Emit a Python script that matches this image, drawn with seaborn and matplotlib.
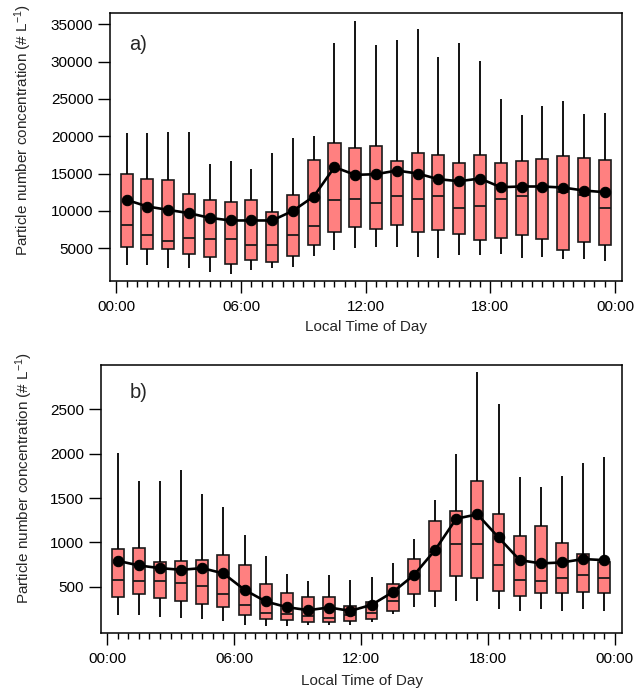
import numpy as np
import pandas as pd
import matplotlib
matplotlib.use("Agg")
import matplotlib.pyplot as plt
import seaborn as sns

# ---------------- data ----------------
hours = list(range(24))

# panel a) statistics per hour (whisker low, Q1, median, Q3, whisker high, mean)
a_whislo = [2680, 2680, 2410, 2320, 1790, 1560, 2010, 2320, 2460, 3930, 4690, 5000,
            5130, 5180, 3840, 3750, 4110, 4060, 4200, 3660, 3790, 3570, 3530, 3300]
a_q1 = [5220, 4870, 4870, 4240, 3840, 2900, 3390, 3170, 3930, 5490, 7140, 7860,
        7540, 8120, 7230, 7370, 6880, 6070, 6380, 6790, 6200, 4730, 5800, 5490]
a_med = [8040, 6790, 5940, 6380, 6290, 6250, 5490, 5360, 6790, 7950, 11430, 11560,
         11030, 12010, 11560, 12050, 10360, 10670, 11520, 12050, 13030, 12460, 12140, 10400]
a_q3 = [14910, 14330, 14110, 12230, 11470, 11160, 11470, 9910, 12140, 16870, 19060, 18480,
        18620, 16650, 17770, 17500, 16470, 17540, 16470, 16700, 16960, 17280, 17050, 16870]
a_whishi = [20400, 20400, 20580, 20620, 16340, 16650, 15580, 17720, 19730, 20000, 32450, 35490,
            32230, 32860, 34370, 30620, 32450, 30090, 25000, 22860, 24110, 24730, 22950, 23080]
a_mean = [11470, 10580, 10130, 9690, 9060, 8710, 8710, 8710, 10000, 11920, 15850, 14820,
          14910, 15400, 15000, 14240, 13970, 14330, 13170, 13260, 13260, 13120, 12720, 12500]

# panel b)
b_whislo = [188, 177, 158, 150, 132, 113, 75, 60, 60, 68, 75, 75,
            105, 196, 275, 275, 342, 342, 245, 229, 245, 226, 245, 233]
b_q1 = [391, 421, 376, 342, 301, 278, 181, 139, 124, 102, 102, 113,
        139, 226, 418, 448, 617, 602, 451, 399, 425, 425, 440, 433]
b_med = [572, 561, 568, 542, 508, 418, 293, 207, 192, 169, 154, 180,
         203, 339, 613, 895, 978, 978, 745, 572, 561, 602, 628, 594]
b_q3 = [925, 933, 775, 790, 805, 854, 741, 534, 425, 391, 391, 286,
        324, 527, 809, 1241, 1354, 1693, 1317, 1072, 1181, 989, 869, 775]
b_whishi = [2005, 1693, 1693, 1821, 1542, 1396, 1083, 843, 647, 568, 632, 576,
            606, 771, 1042, 1478, 1994, 2916, 2558, 1734, 1621, 1753, 1896, 1960]
b_mean = [794, 741, 711, 692, 711, 651, 466, 335, 271, 237, 267, 229,
          297, 440, 632, 914, 1268, 1317, 1057, 801, 764, 775, 813, 801]

panel_labels = ["a)", "b)"]
xtick_hours = [0, 6, 12, 18, 24]
xtick_labels = ["00:00", "06:00", "12:00", "18:00", "00:00"]
a_yticks = [5000, 10000, 15000, 20000, 25000, 30000, 35000]
b_yticks = [500, 1000, 1500, 2000, 2500]
xlabel = "Local Time of Day"
ylabel = "Particle number concentration (# L$^{-1}$)"

# ---------------- style ----------------
sns.set_style("ticks")
plt.rcParams["font.family"] = ["Liberation Sans", "DejaVu Sans"]
plt.rcParams["mathtext.fontset"] = "custom"
plt.rcParams["mathtext.rm"] = "Liberation Sans"
plt.rcParams["mathtext.it"] = "Liberation Sans:italic"
plt.rcParams["axes.linewidth"] = 1.0

BOXFACE = "#FF8080"
EDGE = "#1a1a1a"
FS = 11

fig = plt.figure(figsize=(6.36, 6.92), dpi=100)
ax_a = fig.add_axes([0.173, 0.5939, 0.8055, 0.3873])
ax_b = fig.add_axes([0.1583, 0.0853, 0.8202, 0.3872])


def build_long(whislo, q1, med, q3, whishi):
    rows = []
    for i, h in enumerate(hours):
        for v in (whislo[i], q1[i], med[i], q3[i], whishi[i]):
            rows.append({"hour": h + 0.5, "value": v})
    return pd.DataFrame(rows)


def draw(ax, whislo, q1, med, q3, whishi, mean, width, ylim, yticks, label,
         label_xy, ylab_xy, xlab_xy):
    df = build_long(whislo, q1, med, q3, whishi)
    sns.boxplot(data=df, x="hour", y="value", native_scale=True, whis=(0, 100),
                width=width, color=BOXFACE, saturation=1, linecolor=EDGE,
                linewidth=1.2, fliersize=0, showcaps=False,
                whiskerprops={"linewidth": 1.3, "color": "black"},
                medianprops={"linewidth": 1.3},
                ax=ax)
    mdf = pd.DataFrame({"hour": [h + 0.5 for h in hours], "mean": mean})
    sns.lineplot(data=mdf, x="hour", y="mean", color="black", marker="o",
                 markersize=7.5, markeredgecolor="black", linewidth=1.9,
                 ax=ax, zorder=5)
    ax.set_xlim(-0.3, 24.35)
    ax.set_ylim(*ylim)
    ax.set_xticks(xtick_hours)
    ax.set_xticklabels(xtick_labels)
    ax.set_xticks(np.arange(0, 24.01, 0.5), minor=True)
    ax.set_yticks(yticks)
    ax.set_yticklabels([str(t) for t in yticks])
    ax.tick_params(axis="both", which="major", direction="out", length=8.5,
                   width=1.0, labelsize=FS, color="black", labelcolor="black")
    ax.tick_params(axis="x", which="minor", direction="out", length=4,
                   width=1.0, color="black")
    ax.tick_params(axis="y", which="major", pad=3.5)
    ax.tick_params(axis="x", which="major", pad=5)
    for s in ax.spines.values():
        s.set_visible(True)
        s.set_color("black")
        s.set_linewidth(1.1)
    ax.set_xlabel(xlabel, fontsize=FS)
    ax.set_ylabel(ylabel, fontsize=FS)
    ax.yaxis.set_label_coords(*ylab_xy)
    ax.xaxis.set_label_coords(*xlab_xy)
    ax.text(label_xy[0], label_xy[1], label, transform=ax.transAxes,
            fontsize=14.5, ha="left", va="center")


draw(ax_a, a_whislo, a_q1, a_med, a_q3, a_whishi, a_mean, 0.58, (600, 36500),
     a_yticks, panel_labels[0], (0.037, 0.884), (-0.149, 0.563), (0.5, -0.147))
draw(ax_b, b_whislo, b_q1, b_med, b_q3, b_whishi, b_mean, 0.56, (-20, 3000),
     b_yticks, panel_labels[1], (0.055, 0.896), (-0.125, 0.578), (0.5, -0.154))

fig.savefig("out.png", dpi=100)
